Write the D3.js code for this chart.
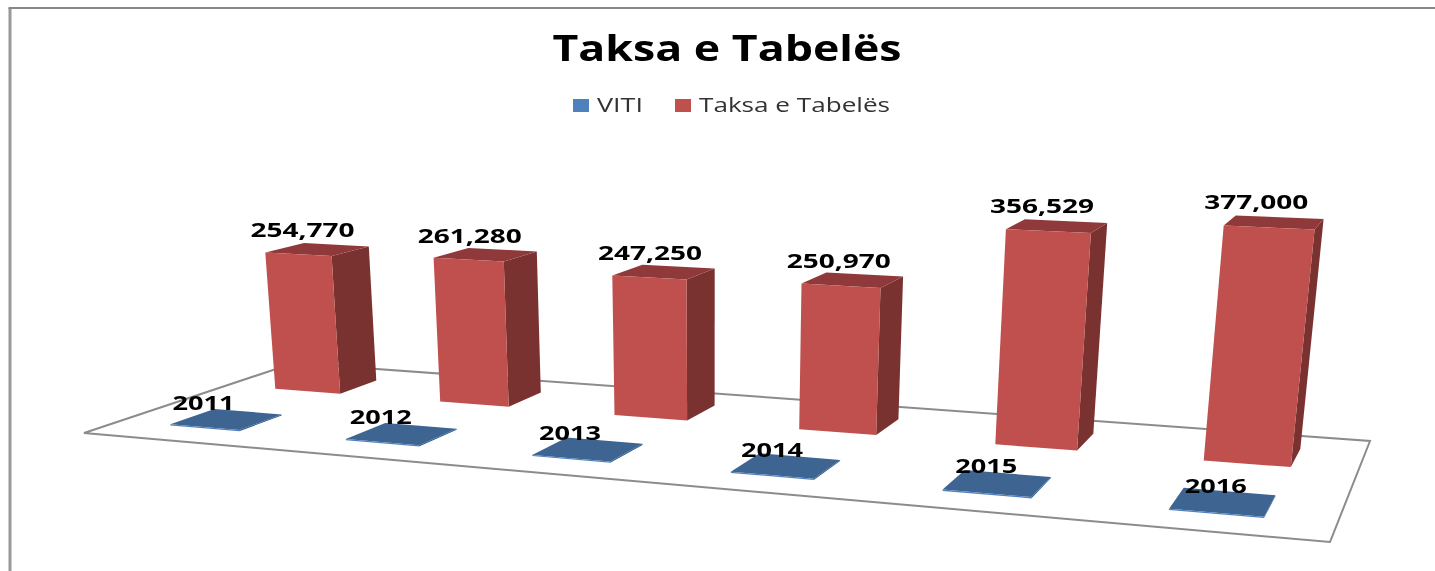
<!DOCTYPE html>
<html><head><meta charset="utf-8">
<script src="https://cdn.jsdelivr.net/npm/d3@7/dist/d3.min.js"></script>
<style>html,body{margin:0;padding:0;background:#fff}svg{display:block;filter:blur(0.7px)}text{font-family:"Open Sans",sans-serif}</style>
</head><body><svg id="c" width="1435" height="571"></svg>
<script>
const chartTitle = "Taksa e Tabelës";
const categories = ["2011","2012","2013","2014","2015","2016"];
const seriesNames = ["VITI","Taksa e Tabelës"];
const viti = [2011,2012,2013,2014,2015,2016];
const taksa = [254770,261280,247250,250970,356529,377000];
const valueLabels = ["254,770","261,280","247,250","250,970","356,529","377,000"];
const seriesColors = {front:["#4f81bd","#c0504d"],side:["#2f5a8c","#7a3230"],top:["#3e6491","#90393a"]};
// hand-placed label offsets from each bar's top centre, as in the original chart
const labelNudgeX = [[-23,-21,-18,-14,-11,-7],[-15,-16,-14,-14,-15,-18]];
const labelBaseline = [[410,424,440,457,473,493],[237,243,260,268,213,209]];

const svg = d3.select("#c");
const floor = [[84,433],[1330,542],[1370,441],[294,363]]; // (u,v)=(0,0),(1,0),(1,1),(0,1)
const vanish = [708,6284], lift = -9.75e-8;
function homography(q){
  const [[x0,y0],[x1,y1],[x2,y2],[x3,y3]] = q;
  const dx1=x1-x2,dx2=x3-x2,sx=x0-x1+x2-x3,dy1=y1-y2,dy2=y3-y2,sy=y0-y1+y2-y3;
  const d=dx1*dy2-dx2*dy1, g=(sx*dy2-dx2*sy)/d, h=(dx1*sy-sx*dy1)/d;
  return [x1-x0+g*x1, x3-x0+h*x3, x0, y1-y0+g*y1, y3-y0+h*y3, y0, g, h, 1];
}
const H = homography(floor);
const project = (u,v,t)=>{
  const X=H[0]*u+H[1]*v+H[2], Y=H[3]*u+H[4]*v+H[5], W=H[6]*u+H[7]*v+H[8];
  const k=t*lift;
  return [(X+k*vanish[0])/(W+k), (Y+k*vanish[1])/(W+k)];
};
const uScale = d3.scaleBand().domain(categories).range([0,1]).paddingInner(0.6).paddingOuter(0.3);
const vScale = d3.scaleBand().domain(seriesNames).range([0,1]).paddingInner(0.6).paddingOuter(0.3);
const hScale = d3.scaleLinear().domain([0,400000]).range([0,400000]);
const poly = pts=>"M"+pts.map(p=>p.map(n=>n.toFixed(1)).join(",")).join("L")+"Z";

svg.append("path").attr("d",poly(floor.map((_,i)=>project([0,1,1,0][i],[0,0,1,1][i],0))))
  .attr("fill","#fff").attr("stroke","#8c8c8c").attr("stroke-width",2);

svg.append("path").attr("d","M10,571V8").attr("fill","none").attr("stroke","#999").attr("stroke-width",3);
svg.append("path").attr("d","M8.5,8H1435").attr("fill","none").attr("stroke","#888").attr("stroke-width",2);

function bar(s,cat,val){
  const u0=uScale(cat),u1=u0+uScale.bandwidth(),v0=vScale(seriesNames[s]),v1=v0+vScale.bandwidth(),t=hScale(val);
  const g=svg.append("g");
  const P=(u,v,h)=>project(u,v,h);
  g.append("path").attr("d",poly([P(u1,v0,0),P(u1,v1,0),P(u1,v1,t),P(u1,v0,t)])).attr("fill",seriesColors.side[s]);
  g.append("path").attr("d",poly([P(u0,v0,t),P(u1,v0,t),P(u1,v1,t),P(u0,v1,t)])).attr("fill",seriesColors.top[s]);
  g.append("path").attr("d",poly([P(u0,v0,0),P(u1,v0,0),P(u1,v0,t),P(u0,v0,t)])).attr("fill",seriesColors.front[s]);
  return P((u0+u1)/2,(v0+v1)/2,t);
}
const labelPts=[];
[1,0].forEach(s=>categories.forEach((c,i)=>{
  labelPts.push({s,i,p:bar(s,c,s?taksa[i]:viti[i])});
}));
labelPts.forEach(({s,i,p})=>{
  svg.append("text").attr("x",p[0]+labelNudgeX[s][i]).attr("y",labelBaseline[s][i]).attr("text-anchor","middle")
    .attr("font-size",19).attr("font-weight",700).attr("fill","#000")
    .attr("textLength",s?104:62).attr("lengthAdjust","spacingAndGlyphs")
    .text(s?valueLabels[i]:categories[i]);
});
svg.append("text").attr("x",727).attr("y",61).attr("text-anchor","middle").attr("font-size",35).attr("font-weight",700)
  .attr("textLength",349).attr("lengthAdjust","spacingAndGlyphs").text(chartTitle);
const legendX=[573,675],legendTextX=[597,699],legendW=[46,191];
seriesNames.forEach((n,i)=>{
  svg.append("rect").attr("x",legendX[i]).attr("y",99).attr("width",16).attr("height",13).attr("fill",seriesColors.front[i]);
  svg.append("text").attr("x",legendTextX[i]).attr("y",112).attr("font-size",20).attr("fill","#333")
    .attr("textLength",legendW[i]).attr("lengthAdjust","spacingAndGlyphs").text(n);
});
</script></body></html>
